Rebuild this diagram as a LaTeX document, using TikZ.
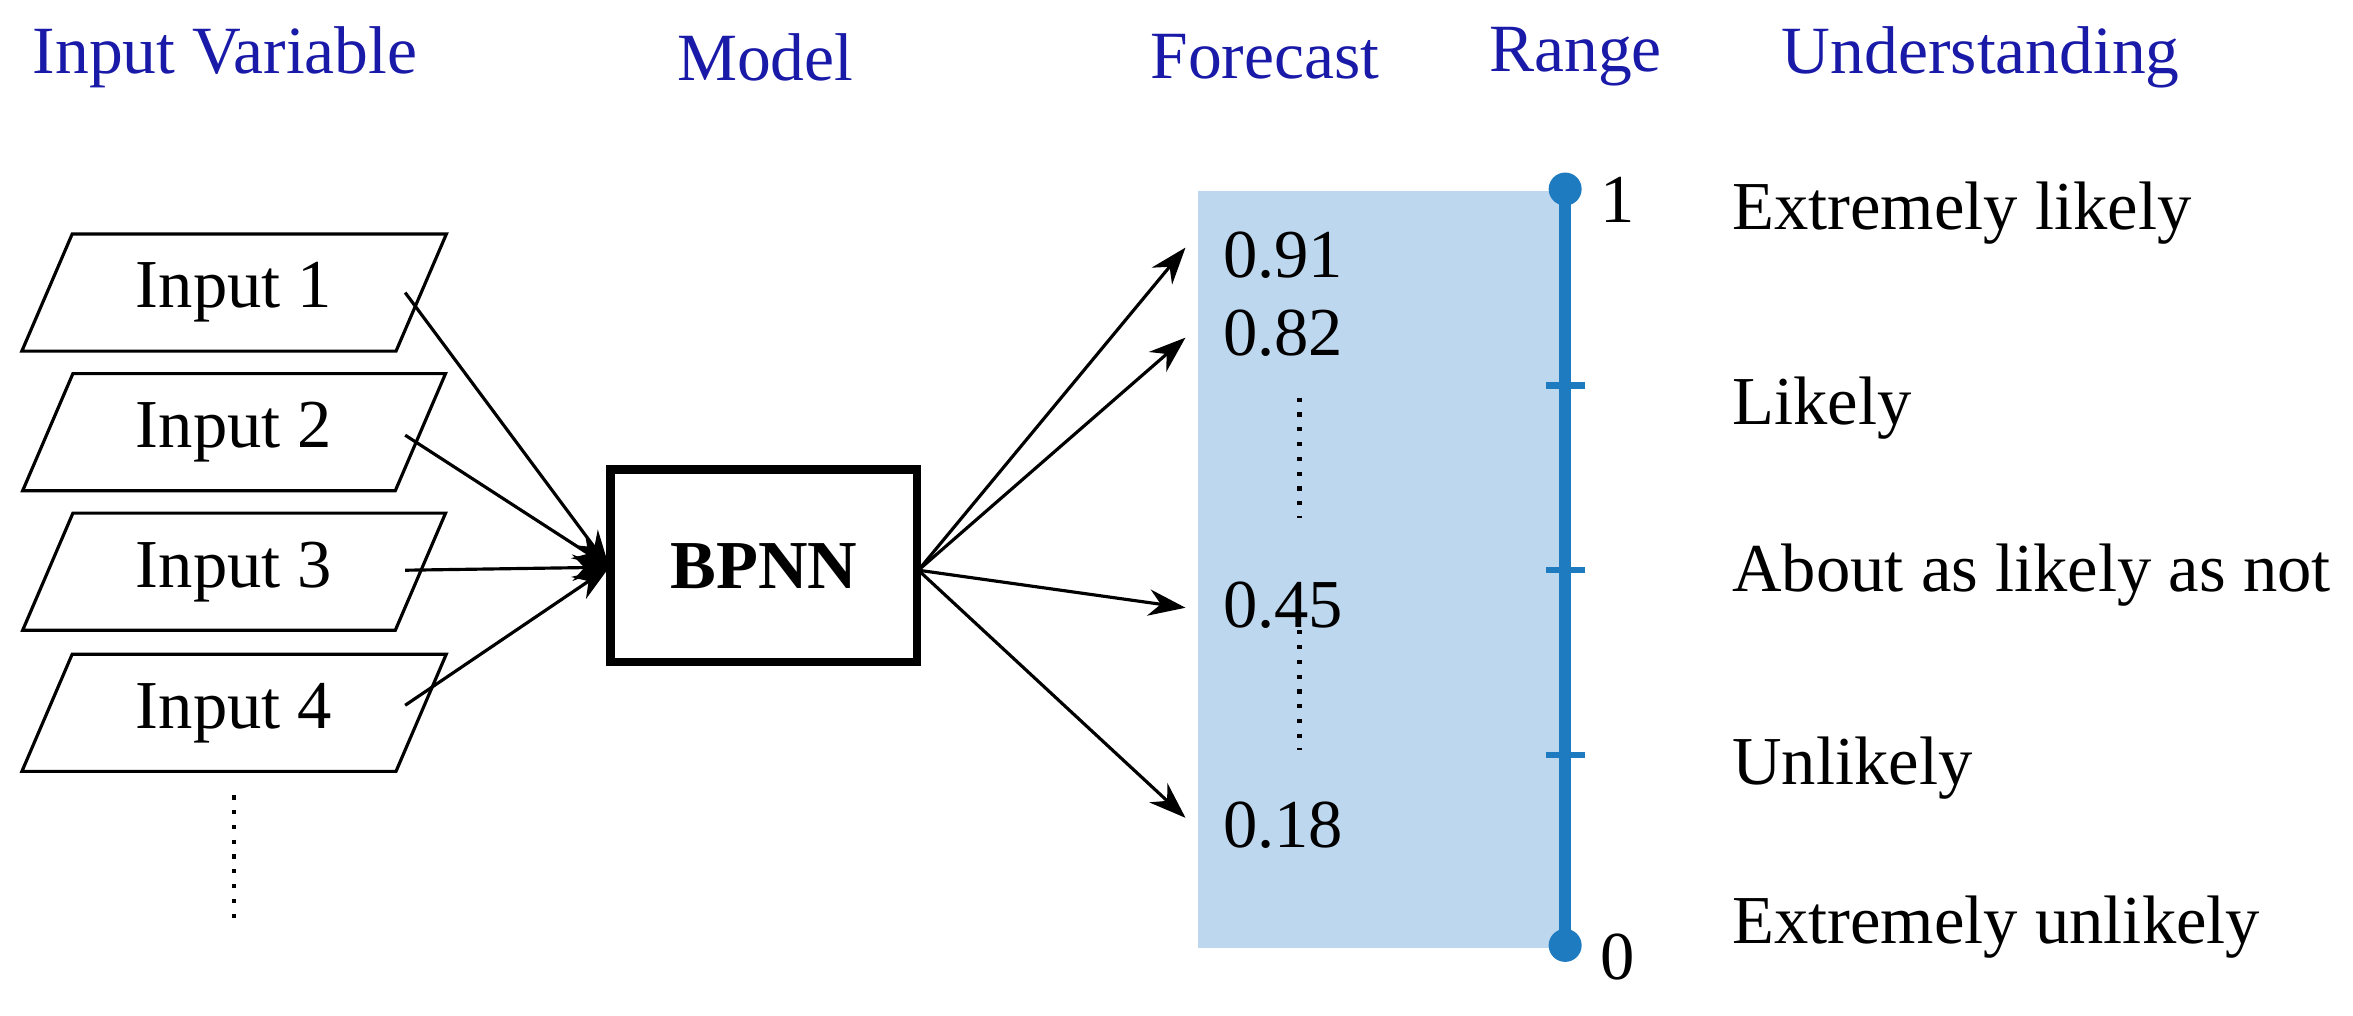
\documentclass[tikz,border=0pt]{standalone}
\usepackage{fontspec}
\setmainfont{Liberation Serif}
\usetikzlibrary{shapes.geometric,arrows.meta}
\definecolor{hd}{HTML}{1A1AA8}
\definecolor{band}{HTML}{BDD7EE}
\definecolor{rng}{HTML}{1F7BC0}
\begin{document}
\begin{tikzpicture}[x=0.01cm,y=-0.01cm,
  head/.style={text=hd,font=\fontsize{12.8}{14}\selectfont},
  lbl/.style={font=\fontsize{13}{15}\selectfont},
  inp/.style={trapezium,trapezium left angle=63,trapezium right angle=117,draw,line width=0.6pt,minimum width=2.83cm,minimum height=0.78cm,inner sep=0pt,font=\fontsize{13}{15}\selectfont,trapezium stretches=true},
  arr/.style={-{Stealth[length=7pt,width=5pt]},line width=0.6pt},
  tick/.style={rng,line width=1.2pt}]
\useasboundingbox (0,0) rectangle (1568,677);
\node[head] (h1) at (150,38) {Input Variable};
\node[head] (h2) at (510,38) {Model};
\node[head] (h3) at (843,38) {Forecast};
\node[head] (h4) at (1050,38) {Range};
\node[head] (h5) at (1320,38) {Understanding};
\node[inp] (i1) at (156,195) {Input 1};
\node[inp] (i2) at (156,288) {Input 2};
\node[inp] (i3) at (156,381) {Input 3};
\node[inp] (i4) at (156,475) {Input 4};
\draw[dotted,line width=0.8pt] (156,530) -- (156,615);
\node[draw,line width=1.6pt,minimum width=2.04cm,minimum height=1.28cm,font=\fontsize{13}{15}\selectfont\bfseries] (m) at (509,377) {BPNN};
\fill[band] (798,127) rectangle (1043,632);
\node[lbl] (f1) at (855,170) {0.91};
\node[lbl] (f2) at (855,222) {0.82};
\node[lbl] (f3) at (855,403) {0.45};
\node[lbl] (f4) at (855,550) {0.18};
\draw[dotted,line width=0.8pt] (866,265) -- (866,345);
\draw[dotted,line width=0.8pt] (866,420) -- (866,500);
\coordinate (mi) at (406,378);
\coordinate (mo) at (612,380);
\draw[arr] (270,195) -- (mi);
\draw[arr] (270,290) -- (mi);
\draw[arr] (270,380) -- (mi);
\draw[arr] (270,470) -- (mi);
\draw[arr] (mo) -- (790,165);
\draw[arr] (mo) -- (790,225);
\draw[arr] (mo) -- (790,405);
\draw[arr] (mo) -- (790,545);
\draw[rng,line width=2.2pt] (1043,126) -- (1043,630);
\fill[rng] (1043,126) circle (11);
\fill[rng] (1043,630) circle (11);
\foreach \y in {257,380,503} \draw[tick] (1030,\y) -- (1056,\y);
\node[lbl] (r1) at (1078,133) {1};
\node[lbl] (r0) at (1078,638) {0};
\node[lbl,anchor=west] (u1) at (1142,142) {Extremely likely};
\node[lbl,anchor=west] (u2) at (1142,272) {Likely};
\node[lbl,anchor=west] (u3) at (1142,383) {About as likely as not};
\node[lbl,anchor=west] (u4) at (1142,512) {Unlikely};
\node[lbl,anchor=west] (u5) at (1142,618) {Extremely unlikely};
\end{tikzpicture}
\end{document}
